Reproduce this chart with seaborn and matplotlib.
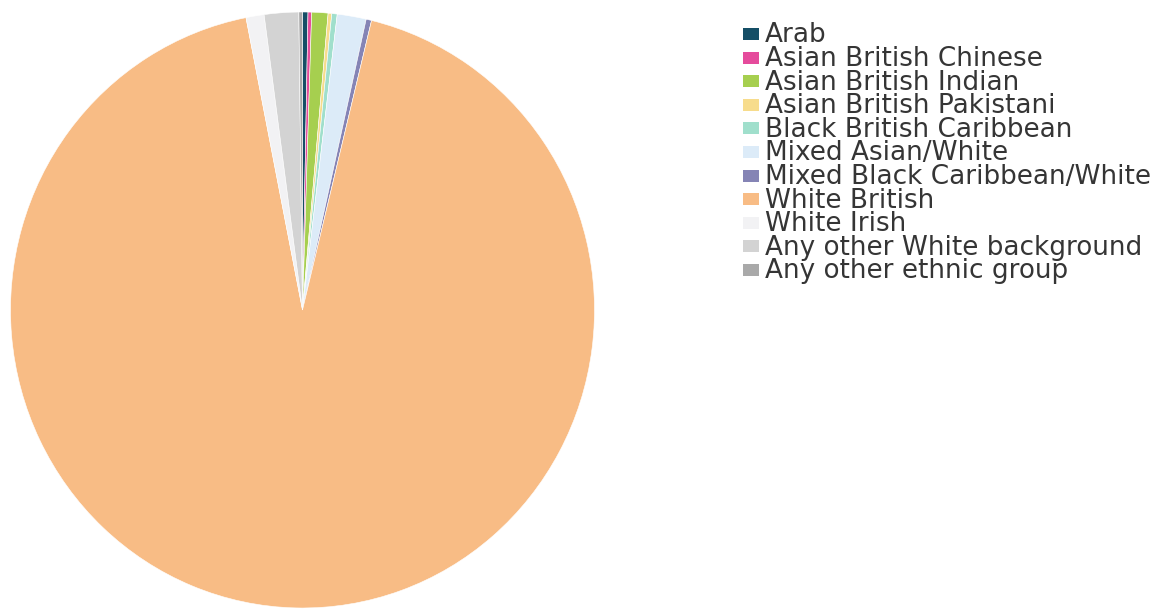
import matplotlib
matplotlib.use("Agg")
import matplotlib.pyplot as plt
from matplotlib.patches import Rectangle
import seaborn as sns

# Ethnic make-up (percent of total), in drawing order clockwise from 12 o'clock
groups = [
    "Arab",
    "Asian British Chinese",
    "Asian British Indian",
    "Asian British Pakistani",
    "Black British Caribbean",
    "Mixed Asian/White",
    "Mixed Black Caribbean/White",
    "White British",
    "White Irish",
    "Any other White background",
    "Any other ethnic group",
]
shares = [0.3, 0.2, 0.9, 0.2, 0.3, 1.6, 0.3, 93.1, 1.0, 1.9, 0.2]
group_colors = [
    "#154e66", "#e54b9c", "#a6cf4f", "#f7dc8c", "#a0dfcc", "#dcebf8",
    "#8584b5", "#f8bc85", "#f2f2f4", "#d3d3d3", "#a9a9a9",
]

sns.set_theme(style="white")
plt.rcParams["font.family"] = ["DejaVu Sans"]
palette = sns.color_palette(group_colors)

W, H, DPI = 1169, 611, 100
fig = plt.figure(figsize=(W / DPI, H / DPI), dpi=DPI)
fig.patch.set_facecolor("white")

# pie area (pixel box converted to figure fractions)
cx, cy_top, rx, ry = 302.5, 310, 292, 298
ax = fig.add_axes([(cx - rx) / W, (H - cy_top - ry) / H, 2 * rx / W, 2 * ry / H])
ax.pie(
    shares,
    colors=palette,
    startangle=90,
    counterclock=False,
    radius=1.0,
    wedgeprops=dict(edgecolor="white", linewidth=0.4),
)
ax.set_aspect("auto")
ax.set_xlim(-1, 1)
ax.set_ylim(-1, 1)
ax.axis("off")

# legend: coloured key + label per group
x_key, key_w, key_h = 743, 16, 12
x_text = 765
row0, row_step = 34, 23.6
for i, (name, col) in enumerate(zip(groups, palette)):
    yc = row0 + i * row_step
    fig.add_artist(Rectangle(
        (x_key / W, (H - yc - key_h / 2) / H), key_w / W, key_h / H,
        transform=fig.transFigure, facecolor=col, edgecolor="none"))
    fig.text(x_text / W, (H - yc - 8.5) / H, name, fontsize=18.9,
             color="#353535", va="baseline", ha="left")

fig.savefig("out.png", dpi=DPI, facecolor="white")
